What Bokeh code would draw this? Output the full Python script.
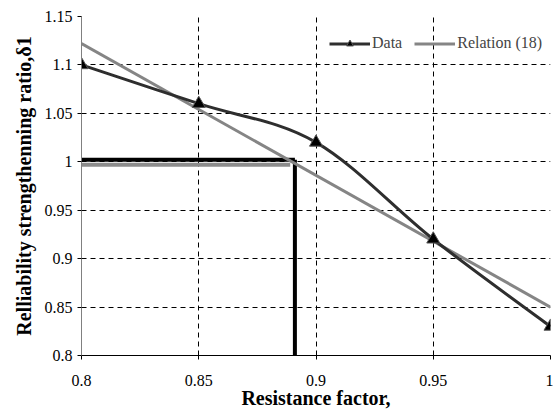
from bokeh.plotting import figure
from bokeh.models import Range1d, FixedTicker, Legend, LegendItem, ColumnDataSource
from bokeh.embed import file_html
from bokeh.resources import INLINE

# data
x_data = [0.8, 0.85, 0.9, 0.95, 1.0]
y_data = [1.10, 1.06, 1.02, 0.92, 0.83]
x_rel = [0.8, 1.0]
y_rel = [1.122, 0.85]
# design point lines
x_black_h = [0.8, 0.891]
y_black_h = [1.002, 1.002]
x_black_v = [0.891, 0.891]
y_black_v = [1.002, 0.8]
x_gray_h = [0.8, 0.889]
y_gray_h = [0.997, 0.997]

x_ticks = [0.8, 0.85, 0.9, 0.95, 1.0]
x_labels = ["0.8", "0.85", "0.9", "0.95", "1"]
y_ticks = [0.8, 0.85, 0.9, 0.95, 1.0, 1.05, 1.1, 1.15]
y_labels = ["0.8", "0.85", "0.9", "0.95", "1", "1.05", "1.1", "1.15"]

FONT = "'Liberation Serif', 'Times New Roman', serif"

p = figure(width=553, height=412, output_backend="svg", toolbar_location=None,
           x_range=Range1d(0.8, 1.0), y_range=Range1d(0.8, 1.15),
           min_border_left=81, min_border_right=3, min_border_top=16, min_border_bottom=57)
p.outline_line_color = None
p.background_fill_color = "white"
p.border_fill_color = "white"

# grid
for g in (p.xgrid, p.ygrid):
    g.grid_line_color = "black"
    g.grid_line_dash = "5 4"
    g.grid_line_width = 1
p.xgrid.ticker = FixedTicker(ticks=x_ticks)
p.ygrid.ticker = FixedTicker(ticks=y_ticks)

# axes
p.xaxis.ticker = FixedTicker(ticks=x_ticks)
p.yaxis.ticker = FixedTicker(ticks=y_ticks)
p.xaxis.major_label_overrides = {t: l for t, l in zip(x_ticks, x_labels)}
p.yaxis.major_label_overrides = {t: l for t, l in zip(y_ticks, y_labels)}
for ax in (p.xaxis[0], p.yaxis[0]):
    ax.major_label_text_font = FONT
    ax.major_label_text_font_size = "16px"
    ax.major_label_text_color = "black"
    ax.minor_tick_line_color = None
    ax.major_tick_in = 0
    ax.major_tick_out = 4
    ax.axis_label_text_font = FONT
    ax.axis_label_text_font_style = "bold"
    ax.axis_label_text_font_size = "20px"
    ax.axis_label_text_color = "black"
p.xaxis.axis_line_color = "black"
p.xaxis.major_tick_line_color = "black"
p.yaxis.axis_line_color = "#808080"
p.yaxis.major_tick_line_color = "black"
p.xaxis.major_label_standoff = 15
p.yaxis.major_label_standoff = 5
p.xaxis.axis_label = "Resistance factor,"
p.yaxis.axis_label = "Relliability strengthenning ratio,δ1"
p.xaxis.axis_label_standoff = -2
p.yaxis.axis_label_standoff = 7

# design lines
p.line(x_gray_h, y_gray_h, line_color="#8c8c8c", line_width=4)
p.line(x_black_h, y_black_h, line_color="black", line_width=4)
p.line(x_black_v, y_black_v, line_color="black", line_width=4)

# relation line
r_rel = p.line(x_rel, y_rel, line_color="#858585", line_width=3)

# smoothed data curve (Excel-style Bezier through the data points)
n = len(x_data)
xs = [x_data[0]] + x_data + [x_data[-1]]
ys = [y_data[0]] + y_data + [y_data[-1]]
x0, y0, x1, y1, cx0, cy0, cx1, cy1 = [], [], [], [], [], [], [], []
for i in range(n - 1):
    a = i + 1
    x0.append(xs[a]); y0.append(ys[a])
    x1.append(xs[a + 1]); y1.append(ys[a + 1])
    cx0.append(xs[a] + (xs[a + 1] - xs[a - 1]) / 6)
    cy0.append(ys[a] + (ys[a + 1] - ys[a - 1]) / 6)
    cx1.append(xs[a + 1] - (xs[a + 2] - xs[a]) / 6)
    cy1.append(ys[a + 1] - (ys[a + 2] - ys[a]) / 6)
src = ColumnDataSource(dict(x0=x0, y0=y0, x1=x1, y1=y1, cx0=cx0, cy0=cy0, cx1=cx1, cy1=cy1))
r_bez = p.bezier(x0="x0", y0="y0", x1="x1", y1="y1", cx0="cx0", cy0="cy0", cx1="cx1", cy1="cy1",
                 source=src, line_color="#2e2e2e", line_width=3)
r_mark = p.scatter(x_data, y_data, marker="triangle", size=13, fill_color="black",
                   line_color="#555555", line_width=1)

legend = Legend(items=[LegendItem(label="Data", renderers=[r_bez, r_mark]),
                       LegendItem(label="Relation (18)", renderers=[r_rel])],
                orientation="horizontal", location=(248, 303),
                background_fill_alpha=0, border_line_color=None,
                label_text_font=FONT, label_text_font_size="16px",
                glyph_width=41, label_standoff=2, spacing=12, padding=0,
                label_height=17, glyph_height=17)
p.add_layout(legend)

open("out.html", "w").write(file_html(p, INLINE))
